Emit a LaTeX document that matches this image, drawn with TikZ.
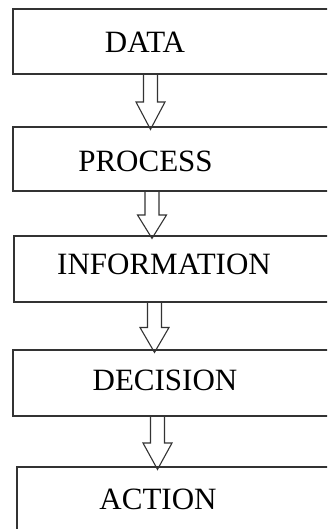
\documentclass[tikz,border=0pt]{standalone}
\usepackage{fontspec}
\setmainfont{Liberation Serif}
\usetikzlibrary{calc}

\tikzset{
  box/.style={draw=black!80, line width=1.2pt, inner sep=0pt,
    minimum width=332pt, minimum height=#1},
  lbl/.style={inner sep=0pt, font=\fontsize{31}{36}\selectfont},
  arrowline/.style={draw=black!80, line width=1.1pt, line join=miter}
}

% hollow block arrow: from box, to box, x of the arrow axis
\newcommand{\hollowarrow}[3]{%
  \draw[arrowline] let \p1=(#1.south), \p2=(#2.north) in
    (#3pt-7pt,\y1) -- (#3pt-7pt,{(\y1+\y2-3pt)/2})
    -- (#3pt-14.5pt,{(\y1+\y2-3pt)/2}) -- (#3pt,\y2-3pt)
    -- (#3pt+14.5pt,{(\y1+\y2-3pt)/2}) -- (#3pt+7pt,{(\y1+\y2-3pt)/2})
    -- (#3pt+7pt,\y1);}

\begin{document}
\begin{tikzpicture}[x=1pt,y=1pt]
  \useasboundingbox (0,0) rectangle (327,529);
  \clip (0,0) rectangle (327,529);

  % boxes, running off the right edge
  \node[box=65pt] (data) at (179,487.5) {};
  \node[box=64pt] (process) at (179,370) {};
  \node[box=66pt, minimum width=331pt] (info) at (179.5,260) {};
  \node[box=66pt] (decision) at (179,146) {};
  \node[box=93pt, minimum width=328pt] (action) at (181,15.5) {};

  % labels
  \node[lbl] (tdata) at (145,487) {DATA};
  \node[lbl] (tprocess) at (145.5,368) {PROCESS};
  \node[lbl] (tinfo) at (164,265) {INFORMATION};
  \node[lbl] (tdecision) at (165,149) {DECISION};
  \node[lbl] (taction) at (158,30) {ACTION};

  % arrows
  \hollowarrow{data}{process}{150.5}
  \hollowarrow{process}{info}{152}
  \hollowarrow{info}{decision}{154.5}
  \hollowarrow{decision}{action}{157.5}
\end{tikzpicture}
\end{document}
